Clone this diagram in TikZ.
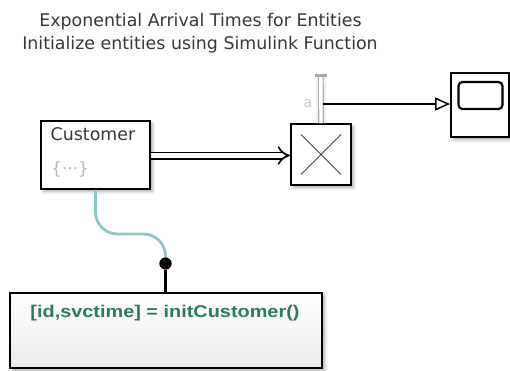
\documentclass[tikz,border=0pt]{standalone}
\usepackage{fontspec}
\usepackage{graphicx}
\setmainfont{DejaVu Sans}
\newfontfamily\arialfont{Liberation Sans}
\usetikzlibrary{arrows.meta,shadows.blur}
\definecolor{fgreen}{RGB}{45,122,92}
\definecolor{tealc}{RGB}{140,200,200}
\definecolor{txtgray}{RGB}{55,55,55}
\begin{document}
\begin{tikzpicture}[x=1pt,y=-1pt,
  blk/.style={draw=black, line width=1.8pt, fill=white, inner sep=0pt,
    blur shadow={shadow xshift=2.5pt, shadow yshift=-2.5pt, shadow opacity=35, shadow blur radius=3pt}},
  ttl/.style={anchor=base, text=txtgray, font=\fontsize{17.4}{20}\selectfont, inner sep=0pt},
  portwire/.style={draw=gray!65, line width=1.2pt, double=white, double distance=3.4pt}]
\useasboundingbox (0,0) rectangle (510,370);

% title
\node[ttl] (t1) at (200.5,26.5) {Exponential Arrival Times for Entities};
\node[ttl] (t2) at (200,49) {Initialize entities using Simulink Function};

% blocks
\node[blk, minimum width=109pt, minimum height=68pt] (cust) at (95.5,155) {};
\node[anchor=base west, text=txtgray, font=\fontsize{17.4}{20}\selectfont, inner sep=0pt] (custlbl) at (50.5,140) {Customer};
\node[anchor=west, text=gray!55, font=\fontsize{17}{20}\selectfont, inner sep=0pt] (ent) at (51,169) {\{···\}};

\node[blk, minimum width=60pt, minimum height=61pt] (srv) at (321,154.5) {};
\draw[gray!55!black, line width=1pt] (301,134.5) -- (341,174.5) (341,134.5) -- (301,174.5);

\node[blk, minimum width=58pt, minimum height=64.5pt] (scope) at (480,104.85) {};
\node[draw, line width=2.2pt, rounded corners=4pt, minimum width=44pt, minimum height=27pt, inner sep=0pt] (scr) at (480.5,95.5) {};

\node[blk, minimum width=312pt, minimum height=75pt, top color=white, bottom color=gray!16] (fn) at (166,330.5) {};
\node[anchor=base, text=fgreen, font=\arialfont\bfseries\fontsize{17}{20}\selectfont, inner sep=0pt] (fnlbl) at (165,317) {\scalebox{1.17}[1]{[id,svctime] = initCustomer()}};

% entity connection
\draw[line width=1.7pt, double=white, double distance=4.6pt, -{Implies[length=7pt]}] (cust.east |- 0,155.5) -- (srv.west |- 0,155.5);

% port wire with cap
\coordinate (ptop) at (320.8,75);
\draw[gray!12, line width=10pt] (srv.north) -- (ptop);
\draw[portwire] (srv.north) -- (ptop);
\draw[gray!70, line width=3pt] (315,75) -- (327,75);
\node[text=gray!45, font=\fontsize{14}{14}\selectfont, inner sep=0pt] (alab) at (308,104) {a};

% signal to scope
\coordinate (pa) at (323,104);
\draw[line width=1.4pt, -{Triangle[open, length=15pt, width=13pt, line width=1.5pt]}] (pa) -- (pa -| scope.west);

% function link
\node[circle, fill=black, minimum size=12pt, inner sep=0pt] (dot) at (165.5,263.5) {};
\draw[tealc, line width=2.8pt, rounded corners=22pt] (cust.south) |- (165.5,234) -- (dot.center);
\node[circle, fill=black, minimum size=12pt, inner sep=0pt] at (dot) {};
\draw[line width=2.3pt] (dot) -- (dot |- fn.north);
\end{tikzpicture}
\end{document}
